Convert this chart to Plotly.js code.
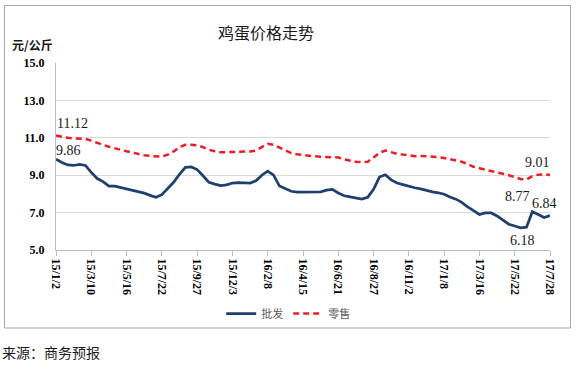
<!DOCTYPE html>
<html>
<head>
<meta charset="utf-8">
<script src="https://cdn.plot.ly/plotly-3.0.1.min.js"></script>
<style>
html,body{margin:0;padding:0;background:#fff;}
#chart{width:576px;height:369px;}
</style>
</head>
<body>
<div id="chart"></div>
<script>
// Tick labels (category dates shown on the x axis)
const tickLabels = ["15/1/2","15/3/10","15/5/16","15/7/22","15/9/27","15/12/3","16/2/8","16/4/15","16/6/21","16/8/27","16/11/2","17/1/8","17/3/16","17/5/22","17/7/28"];
const pointsPerTick = 6;

// 批发 (wholesale) price, 元/公斤
const wholesale = [9.86,9.68,9.55,9.52,9.58,9.52,9.15,8.82,8.66,8.42,8.42,8.34,8.28,8.18,8.10,8.04,7.92,7.82,7.96,8.30,
  8.62,9.05,9.42,9.44,9.30,8.97,8.62,8.52,8.44,8.48,8.58,8.60,8.58,8.58,8.70,9.00,9.22,9.00,8.42,8.26,
  8.14,8.09,8.09,8.11,8.11,8.11,8.20,8.24,8.05,7.90,7.84,7.80,7.72,7.82,8.25,8.90,9.02,8.75,8.58,8.50,
  8.40,8.33,8.27,8.18,8.11,8.06,7.98,7.83,7.72,7.55,7.30,7.11,6.90,6.98,6.98,6.82,6.60,6.38,6.28,6.18,
  6.22,7.05,6.90,6.74,6.84];

// 零售 (retail) price, 元/公斤
const retail = [11.12,11.05,11.00,10.97,10.95,10.94,10.85,10.72,10.62,10.52,10.42,10.36,10.28,10.20,10.14,10.07,10.03,9.99,9.99,10.10,
  10.27,10.50,10.63,10.63,10.60,10.50,10.36,10.28,10.23,10.23,10.23,10.23,10.24,10.27,10.32,10.52,10.68,10.62,10.48,10.30,
  10.18,10.12,10.07,10.04,10.01,9.99,9.99,9.99,9.95,9.85,9.78,9.72,9.70,9.72,9.95,10.20,10.32,10.22,10.14,10.10,
  10.05,10.02,10.03,10.01,10.00,9.97,9.92,9.86,9.82,9.72,9.60,9.45,9.37,9.30,9.22,9.15,9.07,9.00,8.90,8.80,
  8.77,8.95,9.03,9.05,9.01];

const xIdx = wholesale.map((_, i) => i);
const tickVals = tickLabels.map((_, i) => i * pointsPerTick);

const serif = "'Liberation Serif', 'Times New Roman', serif";
const cjk = "'Noto Sans CJK SC', sans-serif";

function lbl(series, i, xanchor, yanchor, xs, ys) {
  return {x: i, y: series[i], xref: 'x', yref: 'y', text: series[i].toFixed(2), showarrow: false,
    xanchor: xanchor, yanchor: yanchor, xshift: xs, yshift: ys,
    font: {family: serif, size: 14, color: '#1a1a1a'}};
}

const traces = [
  {x: xIdx, y: wholesale, name: '批发', type: 'scatter', mode: 'lines',
   line: {color: '#1f3f6e', width: 2.75}},
  {x: xIdx, y: retail, name: '零售', type: 'scatter', mode: 'lines',
   line: {color: '#ee1c25', width: 2.5, dash: '6px,4px'}}
];

const last = wholesale.length - 1;
const layout = {
  width: 576, height: 369,
  margin: {l: 56, r: 26, t: 63, b: 119},
  paper_bgcolor: '#ffffff', plot_bgcolor: '#ffffff',
  title: {text: '鸡蛋价格走势', font: {family: cjk, size: 16, color: '#1a1a1a'},
          xref: 'container', x: 0.462, xanchor: 'center', yref: 'container', y: 0.91, yanchor: 'middle'},
  showlegend: true,
  legend: {orientation: 'h', x: 0.47, xanchor: 'center', y: -0.34, yanchor: 'middle',
           font: {family: cjk, size: 11, color: '#595959'}, bgcolor: 'rgba(0,0,0,0)'},
  xaxis: {type: 'linear', range: [0, last], tickvals: tickVals, ticktext: tickLabels,
          tickangle: 90, ticks: 'outside', ticklen: 5, tickcolor: '#bfbfbf',
          showline: true, linecolor: '#bfbfbf', linewidth: 1, showgrid: false, zeroline: false,
          tickfont: {family: serif, size: 12, color: '#000', weight: 'bold'}},
  yaxis: {range: [5, 15], dtick: 2, tick0: 5, tickformat: '.1f',
          showline: true, linecolor: '#bfbfbf', linewidth: 1, gridcolor: '#d9d9d9', zeroline: false,
          ticks: '', ticklabelstandoff: 8,
          tickfont: {family: serif, size: 12, color: '#000', weight: 'bold'}},
  shapes: [
    {type: 'rect', xref: 'paper', yref: 'paper', x0: -0.1043, x1: 1.0415, y0: -0.4171, y1: 1.3075,
     line: {color: '#a6a6a6', width: 1}, fillcolor: 'rgba(0,0,0,0)', layer: 'below'}
  ],
  annotations: [
    {xref: 'paper', yref: 'paper', x: -0.048, y: 1.098, text: '元/公斤', showarrow: false,
     xanchor: 'center', yanchor: 'middle', font: {family: cjk, size: 12, color: '#1a1a1a', weight: 'bold'}},
    {xref: 'paper', yref: 'paper', x: -0.1134, y: -0.5455, text: '来源：商务预报', showarrow: false,
     xanchor: 'left', yanchor: 'middle', font: {family: cjk, size: 14, color: '#1a1a1a'}},
    lbl(retail, 0, 'left', 'bottom', -1, 3),
    lbl(wholesale, 0, 'left', 'bottom', -2, -1),
    lbl(retail, last, 'right', 'bottom', 2, 3),
    lbl(retail, 80, 'right', 'top', 6, -7),
    lbl(wholesale, last, 'right', 'bottom', 9, 3),
    lbl(wholesale, 79, 'center', 'top', 2, -3)
  ]
};

Plotly.newPlot('chart', traces, layout, {displayModeBar: false, staticPlot: true});
</script>
</body>
</html>
